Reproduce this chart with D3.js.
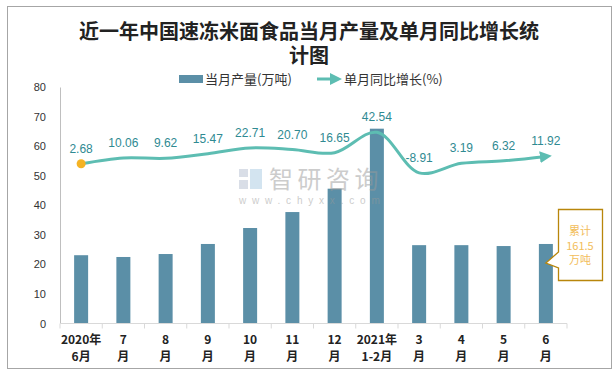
<!DOCTYPE html>
<html lang="zh">
	<head>
		<meta charset="utf-8">
		<title>近一年中国速冻米面食品当月产量及单月同比增长统计图</title>
		<script type="text/javascript" src="https://cdn.jsdelivr.net/npm/d3@7"></script>
		<style>
			body { margin: 0; background: #fff; }
			text { font-family: "Noto Sans CJK SC", "Liberation Sans", sans-serif; }
		</style>
	</head>
	<body>
		<script type="text/javascript">

			//
			// Data
			//
			var monthsTop = ["2020年", "7", "8", "9", "10", "11", "12", "2021年", "3", "4", "5", "6"];
			var monthsBottom = ["6月", "月", "月", "月", "月", "月", "月", "1-2月", "月", "月", "月", "月"];
			var output = [23.1, 22.5, 23.5, 26.9, 32.3, 37.7, 45.6, 65.9, 26.5, 26.5, 26.2, 26.9];
			var growth = [2.68, 10.06, 9.62, 15.47, 22.71, 20.70, 16.65, 42.54, -8.91, 3.19, 6.32, 11.92];
			var yTicks = [0, 10, 20, 30, 40, 50, 60, 70, 80];
			var totalNote = ["累计", "161.5", "万吨"];

			var barColor = "#5b8fa7";
			var lineColor = "#5dbdb2";
			var labelColor = "#2f8a92";

			var svg = d3.select("body")
				.append("svg")
				.attr("width", 616)
				.attr("height", 373);

			// outer frame
			svg.append("rect")
				.attr("x", 7.5).attr("y", 6.5)
				.attr("width", 604).attr("height", 362)
				.attr("fill", "#fff")
				.attr("stroke", "#a6a6a6");

			// title
			var title = svg.append("text")
				.attr("text-anchor", "middle")
				.attr("font-size", 20)
				.attr("font-weight", "bold")
				.attr("fill", "#222");
			title.append("tspan").attr("x", 309).attr("y", 39).text("近一年中国速冻米面食品当月产量及单月同比增长统");
			title.append("tspan").attr("x", 309).attr("y", 63).text("计图");

			//
			// Scales
			//
			var plotLeft = 60, plotRight = 567, plotTop = 87, plotBottom = 323.5;

			var x = d3.scaleBand()
				.domain(d3.range(monthsTop.length))
				.range([plotLeft, plotRight]);

			var y = d3.scaleLinear().domain([0, 80]).range([plotBottom, plotTop]);
			var y2 = d3.scaleLinear().domain([-200, 100]).range([plotBottom, plotTop]);

			// y axis
			var yAxis = svg.append("g")
				.attr("transform", "translate(" + plotLeft + ",0)")
				.call(d3.axisLeft(y).tickValues(yTicks).tickSize(0).tickPadding(14));
			yAxis.select(".domain").attr("stroke", "#bfbfbf");
			yAxis.selectAll("text").attr("font-size", 11).attr("fill", "#333")
				.style("font-family", "Liberation Sans, sans-serif");

			// bars
			svg.selectAll("rect.bar")
				.data(output)
				.enter()
				.append("rect")
				.attr("class", "bar")
				.attr("x", function(d, i) { return x(i) + x.bandwidth() / 2 - 7; })
				.attr("width", 14)
				.attr("y", function(d) { return y(d); })
				.attr("height", function(d) { return plotBottom - y(d); })
				.attr("fill", barColor);

			// watermark (sits over the bars, semi-transparent)
			var wm = svg.append("g").attr("opacity", 0.5);
			wm.append("rect").attr("x", 239).attr("y", 169).attr("width", 9).attr("height", 8).attr("fill", "#b5bfd0");
			wm.append("rect").attr("x", 239).attr("y", 180).attr("width", 9).attr("height", 9).attr("fill", "#b5bfd0");
			wm.append("rect").attr("x", 250).attr("y", 169).attr("width", 12).attr("height", 20).attr("fill", "#a9cbe3");
			wm.append("text").attr("x", 269).attr("y", 188)
				.attr("font-size", 24).attr("fill", "#9a9a9a").attr("letter-spacing", 4.5)
				.text("智研咨询");
			wm.append("text").attr("x", 239).attr("y", 204)
				.attr("font-size", 10).attr("fill", "#9a9a9a").attr("letter-spacing", 5.8)
				.style("font-family", "Liberation Sans, sans-serif")
				.text("www.chyxx.com");

			// x axis
			var xAxis = svg.append("g")
				.attr("transform", "translate(0," + plotBottom + ")");
			xAxis.append("line")
				.attr("x1", plotLeft).attr("x2", plotRight)
				.attr("stroke", "#d9d9d9");
			xAxis.selectAll("line.tick")
				.data(d3.range(monthsTop.length + 1))
				.enter()
				.append("line")
				.attr("class", "tick")
				.attr("x1", function(d) { return plotLeft + d * x.step(); })
				.attr("x2", function(d) { return plotLeft + d * x.step(); })
				.attr("y2", 5)
				.attr("stroke", "#d9d9d9");
			var xl = xAxis.selectAll("text")
				.data(monthsTop)
				.enter()
				.append("text")
				.attr("text-anchor", "middle")
				.attr("font-size", 12)
				.attr("font-weight", "bold")
				.attr("fill", "#222");
			xl.append("tspan")
				.attr("x", function(d, i) { return x(i) + x.bandwidth() / 2; })
				.attr("y", 20)
				.text(function(d) { return d; });
			xl.append("tspan")
				.attr("x", function(d, i) { return x(i) + x.bandwidth() / 2; })
				.attr("y", 37)
				.text(function(d, i) { return monthsBottom[i]; });

			// growth line
			svg.append("defs").append("marker")
				.attr("id", "arrow")
				.attr("viewBox", "0 0 10 10")
				.attr("refX", 5).attr("refY", 5)
				.attr("markerWidth", 4).attr("markerHeight", 4)
				.attr("orient", "auto")
				.append("path")
				.attr("d", "M0,0L10,5L0,10Z")
				.attr("fill", lineColor);

			var line = d3.line()
				.x(function(d, i) { return x(i) + x.bandwidth() / 2; })
				.y(function(d) { return y2(d); })
				.curve(d3.curveCatmullRom.alpha(0.5));

			svg.append("path")
				.datum(growth)
				.attr("d", line)
				.attr("fill", "none")
				.attr("stroke", lineColor)
				.attr("stroke-width", 3)
				.attr("marker-end", "url(#arrow)");

			svg.append("circle")
				.attr("cx", x(0) + x.bandwidth() / 2)
				.attr("cy", y2(growth[0]))
				.attr("r", 4.5)
				.attr("fill", "#f5b324");

			svg.selectAll("text.lbl")
				.data(growth)
				.enter()
				.append("text")
				.attr("class", "lbl")
				.attr("text-anchor", "middle")
				.attr("x", function(d, i) { return x(i) + x.bandwidth() / 2; })
				.attr("y", function(d) { return y2(d) - 11; })
				.attr("font-size", 12)
				.attr("fill", labelColor)
				.style("font-family", "Liberation Sans, sans-serif")
				.text(function(d) { return d.toFixed(2); });

			// legend
			var legend = svg.append("g").attr("font-size", 13).attr("fill", "#333");
			legend.append("rect").attr("x", 179).attr("y", 75).attr("width", 24).attr("height", 8).attr("fill", barColor);
			legend.append("text").attr("x", 205).attr("y", 84).attr("fill", "#333").text("当月产量(万吨)");
			legend.append("line")
				.attr("x1", 317).attr("x2", 336).attr("y1", 79).attr("y2", 79)
				.attr("stroke", lineColor).attr("stroke-width", 3)
				.attr("marker-end", "url(#arrow)");
			legend.append("text").attr("x", 344).attr("y", 84).attr("fill", "#333").text("单月同比增长(%)");

			// callout
			var cx = x(11) + x.bandwidth() / 2;
			svg.append("path")
				.attr("d", "M558.5,209.5H602.5V280.5H558.5V268L" + cx + ",263L558.5,252Z")
				.attr("fill", "#fff")
				.attr("stroke", "#b8860b")
				.attr("stroke-width", 1.3);
			svg.selectAll("text.note")
				.data(totalNote)
				.enter()
				.append("text")
				.attr("class", "note")
				.attr("text-anchor", "middle")
				.attr("x", 580)
				.attr("y", function(d, i) { return 235 + i * 14.5; })
				.attr("font-size", 11)
				.attr("fill", "#f2bd5a")
				.text(function(d) { return d; });

		</script>
	</body>
</html>
